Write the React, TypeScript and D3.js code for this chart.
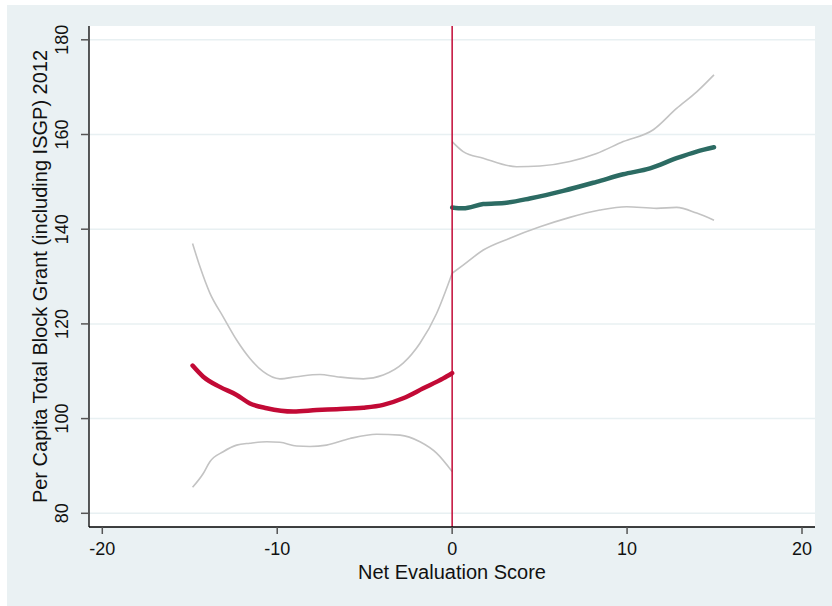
import React from "react";
import * as d3 from "d3";

// Net evaluation score (running variable) and fitted per-capita grant, left of cutoff
const leftX = [-14.84, -14.23, -13.28, -12.32, -11.56, -10.6, -9.08, -7.75, -6.6, -5.08, -3.94, -2.8, -1.65, -0.51, 0];
const leftFit = [111.2, 108.85, 106.7, 105.0, 103.2, 102.2, 101.5, 101.8, 102.0, 102.3, 102.9, 104.3, 106.4, 108.5, 109.6];

const leftUpperX = [-14.84, -14.42, -13.85, -13.09, -12.32, -11.56, -10.8, -9.85, -8.89, -7.56, -6.6, -5.08, -3.94, -2.8, -1.84, -0.89, 0];
const leftUpper = [137.0, 132.1, 126.5, 121.5, 116.6, 112.7, 109.9, 108.4, 108.85, 109.3, 108.85, 108.4, 109.2, 111.7, 115.9, 122.2, 130.7];

const leftLowerX = [-14.84, -14.23, -13.85, -13.09, -12.32, -11.56, -10.6, -9.85, -8.89, -8.13, -7.18, -5.84, -4.32, -2.98, -1.84, -0.89, 0];
const leftLower = [85.5, 88.4, 90.9, 93.0, 94.4, 94.8, 95.1, 95.0, 94.2, 94.1, 94.4, 95.8, 96.7, 96.5, 95.1, 92.7, 88.8];

// Right of cutoff
const rightX = [0, 0.63, 1.78, 3.11, 4.44, 6.35, 8.26, 9.78, 11.31, 12.83, 13.98, 14.97];
const rightFit = [144.6, 144.4, 145.3, 145.6, 146.5, 148.1, 150.0, 151.6, 152.85, 155.0, 156.4, 157.3];

const rightUpperX = [0, 0.63, 1.78, 3.68, 5.02, 6.73, 8.26, 9.78, 11.5, 12.83, 13.98, 14.97];
const rightUpper = [158.5, 156.4, 155.0, 153.2, 153.35, 154.3, 156.0, 158.5, 161.0, 165.5, 169.0, 172.6];

const rightLowerX = [0, 0.63, 1.78, 3.3, 5.02, 6.73, 8.45, 9.97, 11.69, 12.83, 13.98, 14.97];
const rightLower = [130.7, 132.4, 135.6, 138.1, 140.5, 142.5, 144.05, 144.75, 144.4, 144.6, 143.4, 141.9];

const xTicks = [-20, -10, 0, 10, 20];
const yTicks = [80, 100, 120, 140, 160, 180];
const cutoff = 0;

const xTitle = "Net Evaluation Score";
const yTitle = "Per Capita Total Block Grant (including ISGP) 2012";

const W = 832;
const H = 606;
const plot = { left: 89, right: 815, top: 26, bottom: 527 };

const x = d3.scaleLinear().domain([-20, 20]).range([102.3, 802]);
const y = d3.scaleLinear().domain([80, 180]).range([513.3, 39.8]);

const line = d3
  .line<[number, number]>()
  .x((d) => x(d[0]))
  .y((d) => y(d[1]))
  .curve(d3.curveMonotoneX);

const zipPts = (xs: number[], ys: number[]): [number, number][] => xs.map((v, i) => [v, ys[i]]);

const font = "'Liberation Sans', Arial, Helvetica, sans-serif";

export default function App() {
  const ciColor = "#c3c3c3";
  const red = "#c20a36";
  const teal = "#2c6b63";
  return (
    <svg width={W} height={H} style={{ position: "absolute", left: 0, top: 0 }} fontFamily={font}>
      <rect x={7} y={5} width={W - 7} height={H - 5} fill="#eaf1f3" />
      <rect x={plot.left} y={plot.top} width={plot.right - plot.left} height={plot.bottom - plot.top} fill="#ffffff" />

      {yTicks.map((t) => (
        <line key={"g" + t} x1={plot.left} x2={plot.right} y1={y(t)} y2={y(t)} stroke="#e8f0f2" strokeWidth={1.5} />
      ))}

      {/* confidence bands */}
      <path d={line(zipPts(leftUpperX, leftUpper)) || ""} fill="none" stroke={ciColor} strokeWidth={1.6} />
      <path d={line(zipPts(leftLowerX, leftLower)) || ""} fill="none" stroke={ciColor} strokeWidth={1.6} />
      <path d={line(zipPts(rightUpperX, rightUpper)) || ""} fill="none" stroke={ciColor} strokeWidth={1.6} />
      <path d={line(zipPts(rightLowerX, rightLower)) || ""} fill="none" stroke={ciColor} strokeWidth={1.6} />

      {/* fitted lines */}
      <path d={line(zipPts(leftX, leftFit)) || ""} fill="none" stroke={red} strokeWidth={4.5} strokeLinecap="round" strokeLinejoin="round" />
      <path d={line(zipPts(rightX, rightFit)) || ""} fill="none" stroke={teal} strokeWidth={4.5} strokeLinecap="round" strokeLinejoin="round" />

      {/* cutoff */}
      <line x1={x(cutoff)} x2={x(cutoff)} y1={plot.top} y2={plot.bottom} stroke={red} strokeWidth={1.5} />

      {/* axes */}
      <line x1={plot.left} x2={plot.left} y1={plot.top} y2={plot.bottom} stroke="#000" strokeWidth={1.3} />
      <line x1={plot.left} x2={plot.right} y1={plot.bottom} y2={plot.bottom} stroke="#000" strokeWidth={1.3} />

      {yTicks.map((t) => (
        <g key={"y" + t}>
          <line x1={plot.left - 8} x2={plot.left} y1={y(t)} y2={y(t)} stroke="#555" strokeWidth={1.5} />
          <text
            transform={`translate(68,${y(t)}) rotate(-90)`}
            textAnchor="middle"
            fontSize={18}
            fill="#111"
          >
            {t}
          </text>
        </g>
      ))}

      {xTicks.map((t) => (
        <g key={"x" + t}>
          <line x1={x(t)} x2={x(t)} y1={plot.bottom} y2={plot.bottom + 7} stroke="#555" strokeWidth={1.5} />
          <text x={x(t)} y={555} textAnchor="middle" fontSize={18} fill="#111">
            {t}
          </text>
        </g>
      ))}

      <text x={452} y={579} textAnchor="middle" fontSize={20} fill="#111">
        {xTitle}
      </text>
      <text transform={`translate(47,276.5) rotate(-90)`} textAnchor="middle" fontSize={20} fill="#111">
        {yTitle}
      </text>
    </svg>
  );
}
